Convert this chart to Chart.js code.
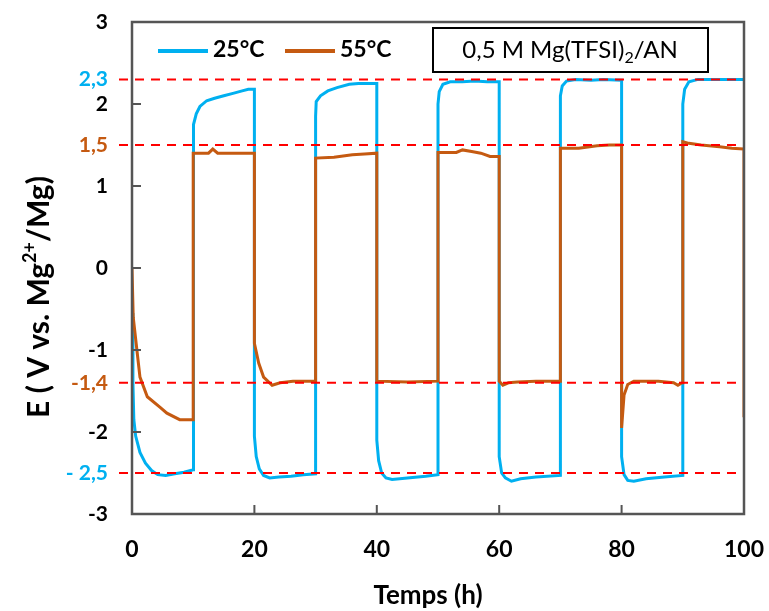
<!DOCTYPE html>
<html>
<head>
<meta charset="utf-8">
<script src="https://cdn.jsdelivr.net/npm/chart.js@4"></script>
<style>
html, body { margin: 0; padding: 0; background: #fff; }
</style>
</head>
<body>
<canvas id="lineChart" width="769" height="611"></canvas>
<script>
// 25°C cycling curve: time (h) and potential (V)
const t25 = [0, 0.15, 0.3, 0.6, 1.3, 2.2, 3.2, 4.2, 5.5, 7, 8.5, 10,
    10, 10.1, 10.5, 11.1, 12.2, 13.5, 15, 16.5, 18, 19, 20,
    20, 20.3, 20.8, 21.5, 22.5, 24, 26, 28, 30,
    30, 30.1, 30.8, 32, 33.5, 35.5, 37, 40,
    40, 40.3, 40.8, 41.5, 42.5, 45, 48, 50,
    50, 50.2, 50.8, 52, 54, 56, 58, 60,
    60, 60.4, 61, 62, 63.5, 66, 70,
    70, 70.3, 71, 72.5, 75, 77, 80,
    80, 80.4, 81, 82, 84, 87, 90,
    90, 90.3, 91, 92.5, 95, 100];
const e25 = [-0.55, -1.4, -1.85, -2.05, -2.25, -2.38, -2.47, -2.52, -2.53, -2.51, -2.49, -2.46,
    1.49, 1.75, 1.88, 1.97, 2.04, 2.07, 2.1, 2.13, 2.16, 2.18, 2.18,
    -2.05, -2.3, -2.45, -2.53, -2.56, -2.55, -2.54, -2.52, -2.51,
    1.85, 2.03, 2.1, 2.16, 2.2, 2.24, 2.25, 2.25,
    -2.1, -2.35, -2.5, -2.56, -2.58, -2.56, -2.54, -2.52,
    2.0, 2.15, 2.24, 2.27, 2.27, 2.28, 2.27, 2.27,
    -2.3, -2.5, -2.56, -2.6, -2.57, -2.55, -2.53,
    2.1, 2.22, 2.28, 2.3, 2.29, 2.3, 2.29,
    -2.3, -2.52, -2.59, -2.6, -2.57, -2.55, -2.53,
    2.0, 2.18, 2.27, 2.3, 2.3, 2.3];

// 55°C cycling curve
const t55 = [0, 0.2, 0.8, 1.3, 2.5, 4.6, 5.7, 7.8, 10,
    10, 12.5, 13.2, 14, 20,
    20, 20.7, 21.5, 22.9, 24.2, 26.3, 30,
    30, 33, 36, 38, 40,
    40, 45, 50,
    50, 53, 54, 55.5, 57, 58.5, 60,
    60, 60.6, 61.5, 63, 66, 70,
    70, 73, 76, 78, 80,
    80, 80.4, 81, 82, 86, 88.5, 89.2, 89.9,
    90, 91, 93, 96, 98, 100, 100];
const e55 = [0, -0.6, -1.0, -1.33, -1.57, -1.7, -1.77, -1.85, -1.85,
    1.4, 1.4, 1.45, 1.4, 1.4,
    -0.92, -1.16, -1.33, -1.43, -1.4, -1.38, -1.38,
    1.34, 1.35, 1.38, 1.39, 1.4,
    -1.38, -1.39, -1.38,
    1.41, 1.41, 1.44, 1.42, 1.4, 1.36, 1.36,
    -1.38, -1.43, -1.4, -1.39, -1.38, -1.38,
    1.46, 1.46, 1.49, 1.5, 1.5,
    -1.95, -1.55, -1.42, -1.38, -1.38, -1.4, -1.43, -1.4,
    1.54, 1.52, 1.5, 1.48, 1.46, 1.45, -1.82];

const xTicks = [0, 20, 40, 60, 80, 100];
const yTicks = [-3, -2, -1, 0, 1, 2, 3];
// reference levels marked with red dashed lines
const refValues = [2.3, 1.5, -1.4, -2.5];
const refLabels = ['2,3', '1,5', '-1,4', '- 2,5'];

const BLUE = '#00B0F0';
const ORANGE = '#C55A11';
const AXIS = '#555555';
const refColors = [BLUE, ORANGE, ORANGE, BLUE];
const FONT = 'Lato';

// text pieces drawn one after another (for sub/superscripts)
function drawPieces(ctx, pieces, cx, y) {
    let total = 0;
    pieces.forEach(p => { ctx.font = p.font; p.w = ctx.measureText(p.text).width; total += p.w; });
    let px = cx - total / 2;
    pieces.forEach(p => {
        ctx.font = p.font;
        ctx.fillText(p.text, px, y + p.dy);
        px += p.w;
    });
}

const overlay = {
    id: 'overlay',
    afterDraw(chart) {
        const { ctx, chartArea: a, scales } = chart;
        const xs = scales.x, ys = scales.y;
        ctx.save();

        // red dashed reference lines
        ctx.strokeStyle = '#FF0000';
        ctx.lineWidth = 2;
        ctx.setLineDash([9, 7]);
        refValues.forEach(v => {
            const py = ys.getPixelForValue(v);
            ctx.beginPath();
            ctx.moveTo(a.left - 13, py);
            ctx.lineTo(a.right, py);
            ctx.stroke();
        });
        ctx.setLineDash([]);

        // frame + inward ticks
        ctx.strokeStyle = AXIS;
        ctx.lineWidth = 2.5;
        ctx.beginPath();
        ctx.moveTo(a.left, a.top);
        ctx.lineTo(a.right, a.top);
        ctx.lineTo(a.right, a.bottom);
        ctx.lineTo(a.left, a.bottom);
        ctx.closePath();
        ctx.stroke();
        ctx.lineWidth = 2;
        ctx.beginPath();
        yTicks.forEach(v => {
            const py = ys.getPixelForValue(v);
            ctx.moveTo(a.left, py);
            ctx.lineTo(a.left + 9, py);
        });
        xTicks.forEach(v => {
            const px = xs.getPixelForValue(v);
            ctx.moveTo(px, a.bottom);
            ctx.lineTo(px, a.bottom - 9);
        });
        ctx.stroke();

        // legend
        ctx.lineWidth = 4;
        ctx.font = 'bold 23px ' + FONT;
        ctx.textBaseline = 'middle';
        ctx.textAlign = 'left';
        chart.data.datasets.forEach((ds, i) => {
            const lx = 158 + i * 127;
            ctx.strokeStyle = ds.borderColor;
            ctx.beginPath();
            ctx.moveTo(lx, 51);
            ctx.lineTo(lx + 50, 51);
            ctx.stroke();
            ctx.fillStyle = '#000';
            ctx.fillText(ds.label, lx + 55, 50);
        });

        // electrolyte box
        ctx.fillStyle = '#fff';
        ctx.fillRect(433, 28, 275, 44);
        ctx.strokeStyle = '#000';
        ctx.lineWidth = 2;
        ctx.strokeRect(433, 28, 275, 44);
        ctx.fillStyle = '#000';
        ctx.textBaseline = 'alphabetic';
        drawPieces(ctx, [
            { text: '0,5 M Mg(TFSI)', font: '24px ' + FONT, dy: 0 },
            { text: '2', font: '16px ' + FONT, dy: 5 },
            { text: '/AN', font: '24px ' + FONT, dy: 0 }
        ], 570, 58);

        // x axis title
        ctx.font = 'bold 26px ' + FONT;
        ctx.textAlign = 'center';
        ctx.fillText('Temps (h)', 428, 604);
        ctx.textAlign = 'left';

        // y axis title with superscript
        ctx.translate(49, 297);
        ctx.rotate(-Math.PI / 2);
        drawPieces(ctx, [
            { text: 'E ( V vs. Mg', font: 'bold 30px ' + FONT, dy: 0 },
            { text: '2+', font: 'bold 18px ' + FONT, dy: -13 },
            { text: '/Mg)', font: 'bold 30px ' + FONT, dy: 0 }
        ], 0, 0);

        ctx.restore();
    }
};

function createLineChart() {
    const ctx = document.getElementById('lineChart').getContext('2d');
    const yLabelValues = yTicks.concat(refValues).sort((p, q) => p - q);

    new Chart(ctx, {
        type: 'line',
        data: {
            datasets: [{
                label: '25°C',
                data: t25.map((t, i) => ({ x: t, y: e25[i] })),
                borderColor: BLUE,
                borderWidth: 3,
                pointRadius: 0,
                order: 1
            }, {
                label: '55°C',
                data: t55.map((t, i) => ({ x: t, y: e55[i] })),
                borderColor: ORANGE,
                borderWidth: 3,
                pointRadius: 0,
                order: 0
            }]
        },
        options: {
            responsive: false,
            animation: false,
            layout: { padding: { top: 22, right: 25, left: 0, bottom: 0 } },
            scales: {
                x: {
                    type: 'linear',
                    min: 0,
                    max: 100,
                    afterBuildTicks: scale => { scale.ticks = xTicks.map(v => ({ value: v })); },
                    afterFit: scale => {
                        scale.height = 97;
                        scale.paddingLeft = 0;
                        scale.paddingRight = 0;
                    },
                    grid: { display: false, drawTicks: false },
                    border: { display: false },
                    ticks: { padding: 22, color: '#000', font: { family: FONT, size: 23, weight: 'bold' } }
                },
                y: {
                    min: -3,
                    max: 3,
                    afterBuildTicks: scale => { scale.ticks = yLabelValues.map(v => ({ value: v })); },
                    afterFit: scale => {
                        scale.width = 132;
                        scale.paddingTop = 0;
                        scale.paddingBottom = 0;
                    },
                    grid: { display: false, drawTicks: false },
                    border: { display: false },
                    ticks: {
                        autoSkip: false,
                        padding: 24,
                        font: { family: FONT, size: 21, weight: 'bold' },
                        color: c => {
                            const k = refValues.indexOf(c.tick ? c.tick.value : null);
                            return k >= 0 ? refColors[k] : '#000';
                        },
                        callback: value => {
                            const k = refValues.indexOf(value);
                            return k >= 0 ? refLabels[k] : String(value);
                        }
                    }
                }
            },
            plugins: {
                legend: { display: false },
                tooltip: { enabled: false }
            }
        },
        plugins: [overlay]
    });
}

createLineChart();
</script>
</body>
</html>
